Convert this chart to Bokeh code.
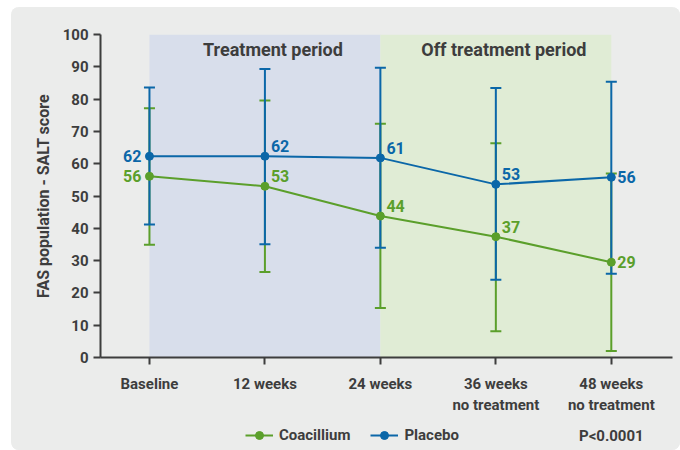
from bokeh.plotting import figure
from bokeh.layouts import column
from bokeh.models import (Range1d, FixedTicker, Legend, LegendItem, Label,
                          ColumnDataSource)
from bokeh.core.properties import value
from bokeh.embed import file_html
from bokeh.resources import INLINE

# ---- data ----
categories = ["Baseline", "12 weeks", "24 weeks", "36 weeks\nno treatment", "48 weeks\nno treatment"]
coacillium = [56.1, 53.0, 43.8, 37.4, 29.5]
coacillium_upper = [77.2, 79.6, 72.4, 66.3, 57.0]
coacillium_lower = [34.9, 26.5, 15.3, 8.1, 2.0]
coacillium_labels = ["56", "53", "44", "37", "29"]
placebo = [62.3, 62.3, 61.8, 53.6, 55.8]
placebo_upper = [83.6, 89.3, 89.7, 83.4, 85.4]
placebo_lower = [41.2, 35.1, 34.0, 24.1, 25.9]
placebo_labels = ["62", "62", "61", "53", "56"]
periods = ["Treatment period", "Off treatment period"]
period_start = [0, 2]
period_end = [2, 4]
p_value = "P<0.0001"

BLUE = "#0b67a8"
GREEN = "#5b9f2b"
DARK = "#3d3d3d"
BG = "#ebeceb"
FONT = "Roboto"

xs = list(range(len(categories)))
x_range = Range1d(-0.424, 4.53)

p = figure(width=669, height=413, output_backend="svg", toolbar_location=None,
           x_range=x_range, y_range=Range1d(0, 100),
           min_border_left=89, min_border_right=8, min_border_top=27,
           min_border_bottom=63)
p.background_fill_color = BG
p.border_fill_color = BG
p.outline_line_color = None
p.grid.visible = False

# shaded periods
p.quad(left=period_start, right=period_end, bottom=0, top=100,
       fill_color=["#d8deeb", "#e0ecd5"], line_color=None)
for name, s, e in zip(periods, period_start, period_end):
    p.add_layout(Label(x=(s + e) / 2, y=100, text=name, text_align="center",
                       text_baseline="middle", y_offset=-15, x_offset=8,
                       text_font=FONT, text_font_style="bold",
                       text_font_size="18px", text_color=DARK))

# error bars
def bars(vals_lo, vals_hi, color):
    p.segment(x0=xs, y0=vals_lo, x1=xs, y1=vals_hi, line_color=color, line_width=2)
    p.scatter(x=xs, y=vals_lo, marker="dash", size=11, line_color=color, line_width=2)
    p.scatter(x=xs, y=vals_hi, marker="dash", size=11, line_color=color, line_width=2)

bars(coacillium_lower, coacillium_upper, GREEN)
bars(placebo_lower, placebo_upper, BLUE)

for vals, color in [(placebo, BLUE), (coacillium, GREEN)]:
    p.line(xs, vals, line_color=color, line_width=2)
    p.scatter(xs, vals, size=8, fill_color=color, line_color=color)

def labels(vals, texts, color):
    n = len(vals)
    align = ["right" if i == 0 else "left" for i in range(n)]
    xoff = [-8 if i == 0 else 6 for i in range(n)]
    yoff = [0 if i in (0, n - 1) else -10 for i in range(n)]
    src = ColumnDataSource(dict(x=xs, y=vals, t=texts, a=align, xo=xoff, yo=yoff))
    p.text(x="x", y="y", text="t", source=src, text_align="a", x_offset="xo",
           y_offset="yo", text_baseline="middle", text_color=color,
           text_font=value(FONT), text_font_style="bold", text_font_size="16px")

labels(placebo, placebo_labels, BLUE)
labels(coacillium, coacillium_labels, GREEN)

# axes
p.xaxis.ticker = FixedTicker(ticks=xs)
p.xaxis.major_label_overrides = {i: c for i, c in enumerate(categories)}
p.yaxis.ticker = FixedTicker(ticks=list(range(0, 101, 10)))
for ax in (p.xaxis, p.yaxis):
    ax.axis_line_color = DARK
    ax.axis_line_width = 2
    ax.major_tick_line_color = DARK
    ax.major_tick_line_width = 2
    ax.major_tick_out = 7
    ax.major_tick_in = 0
    ax.minor_tick_line_color = None
    ax.major_label_text_font = FONT
    ax.major_label_text_font_style = "bold"
    ax.major_label_text_color = DARK
    ax.major_label_text_font_size = "15px"
p.xaxis.major_label_standoff = 10
p.yaxis.major_label_standoff = 5
p.yaxis.axis_label = "FAS population - SALT score"
p.yaxis.axis_label_text_font = FONT
p.yaxis.axis_label_text_font_style = "bold"
p.yaxis.axis_label_text_font_size = "16px"
p.yaxis.axis_label_text_color = DARK
p.yaxis.axis_label_standoff = 7

# ---- legend strip ----
q = figure(width=669, height=30, output_backend="svg", toolbar_location=None,
           x_range=x_range, y_range=Range1d(0, 1),
           min_border_left=89, min_border_right=8, min_border_top=0,
           min_border_bottom=0)
q.background_fill_color = BG
q.border_fill_color = BG
q.outline_line_color = None
q.grid.visible = False
q.axis.visible = False

items = []
for name, vals, color in [("Coacillium", coacillium, GREEN), ("Placebo", placebo, BLUE)]:
    # series drawn out of this strip's range: only their legend samples show
    l = q.line(x=xs, y=vals, line_color=color, line_width=2)
    c = q.scatter(x=xs, y=vals, size=8, fill_color=color, line_color=color)
    items.append(LegendItem(label=name, renderers=[l, c]))

legend = Legend(items=items, orientation="horizontal", location=(145, 5),
                background_fill_alpha=0, border_line_color=None,
                label_text_font=FONT, label_text_font_style="bold",
                label_text_font_size="15px", label_text_color=DARK,
                glyph_width=28, label_standoff=6, spacing=20, padding=0, margin=0)
q.add_layout(legend)

q.add_layout(Label(x=4, y=0.5, text=p_value, text_align="center", text_baseline="middle",
                   text_font=FONT, text_font_style="bold",
                   text_font_size="15px", text_color=DARK))

layout = column(p, q, spacing=0, margin=(7, 0, 0, 11),
                styles={"border-radius": "8px", "overflow": "hidden",
                        "background-color": BG})

open("out.html", "w").write(file_html(layout, INLINE))
